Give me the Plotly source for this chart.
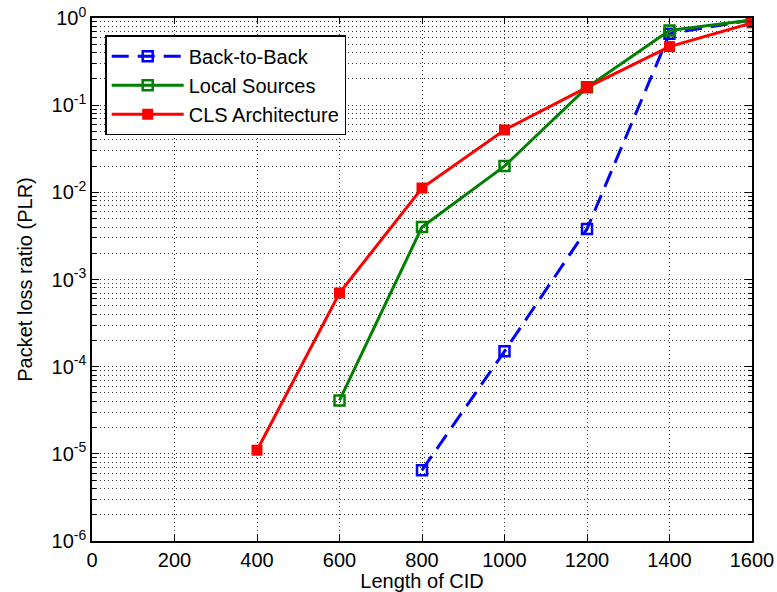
import plotly.graph_objects as go

cid_b2b = [800, 1000, 1200, 1400, 1600]
plr_b2b = [6.5e-6, 1.5e-4, 3.8e-3, 0.66, 0.95]

cid_local = [600, 800, 1000, 1200, 1400, 1600]
plr_local = [4.1e-5, 4.0e-3, 0.020, 0.16, 0.72, 0.95]

cid_cls = [400, 600, 800, 1000, 1200, 1400, 1600]
plr_cls = [1.1e-5, 7.0e-4, 1.12e-2, 0.052, 0.16, 0.47, 0.88]

ytick_vals = [1e-6, 1e-5, 1e-4, 1e-3, 1e-2, 1e-1, 1e0]
ytick_text = ["10<sup>-6</sup>", "10<sup>-5</sup>", "10<sup>-4</sup>", "10<sup>-3</sup>",
              "10<sup>-2</sup>", "10<sup>-1</sup>", "10<sup>0</sup>"]
xtick_vals = [0, 200, 400, 600, 800, 1000, 1200, 1400, 1600]

minor_y = [m * 10**e for e in range(-6, 0) for m in range(2, 10)]

FONT = "Arial, Liberation Sans"
GRID = "#333333"
DOT = "1px,3px"

fig = go.Figure()
fig.add_trace(go.Scatter(x=cid_b2b, y=plr_b2b, name="Back-to-Back", mode="lines+markers",
                         line=dict(color="#0000ff", width=3, dash="17px,9px"),
                         marker=dict(symbol="square-open", size=10, color="#0000ff", line=dict(width=2.5))))
fig.add_trace(go.Scatter(x=cid_local, y=plr_local, name="Local Sources", mode="lines+markers",
                         line=dict(color="#008000", width=3),
                         marker=dict(symbol="square-open", size=10, color="#008000", line=dict(width=2.5))))
fig.add_trace(go.Scatter(x=cid_cls, y=plr_cls, name="CLS Architecture", mode="lines+markers",
                         line=dict(color="#ff0000", width=3),
                         marker=dict(symbol="square", size=11, color="#ff0000")))

axis_common = dict(showline=True, linecolor="black", linewidth=1.5, mirror="ticks",
                   ticks="inside", tickcolor="black", zeroline=False, automargin=False,
                   gridcolor=GRID, griddash=DOT, gridwidth=1,
                   tickfont=dict(family=FONT, size=20, color="black"))

fig.update_xaxes(range=[0, 1600], tickvals=xtick_vals, ticklen=6,
                 title=dict(text="Length of CID", font=dict(family=FONT, size=20, color="black"), standoff=0),
                 **axis_common)
fig.update_yaxes(type="log", range=[-6, 0], tickvals=ytick_vals, ticktext=ytick_text, ticklen=7,
                 minor=dict(tickvals=minor_y, ticks="inside", ticklen=4, tickcolor="black",
                            showgrid=True, gridcolor=GRID, griddash=DOT, gridwidth=1),
                 title=dict(text="Packet loss ratio (PLR)", font=dict(family=FONT, size=20, color="black"), standoff=14),
                 **axis_common)

fig.update_layout(width=777, height=592, plot_bgcolor="white", paper_bgcolor="white",
                  margin=dict(l=92, r=25, t=18, b=51),
                  font=dict(family=FONT, color="black"),
                  legend=dict(x=0.02, y=0.967, xanchor="left", yanchor="top",
                              bgcolor="white", bordercolor="black", borderwidth=1.5,
                              font=dict(family=FONT, size=20, color="black"),
                              itemwidth=72))

fig.write_html("out.html")
